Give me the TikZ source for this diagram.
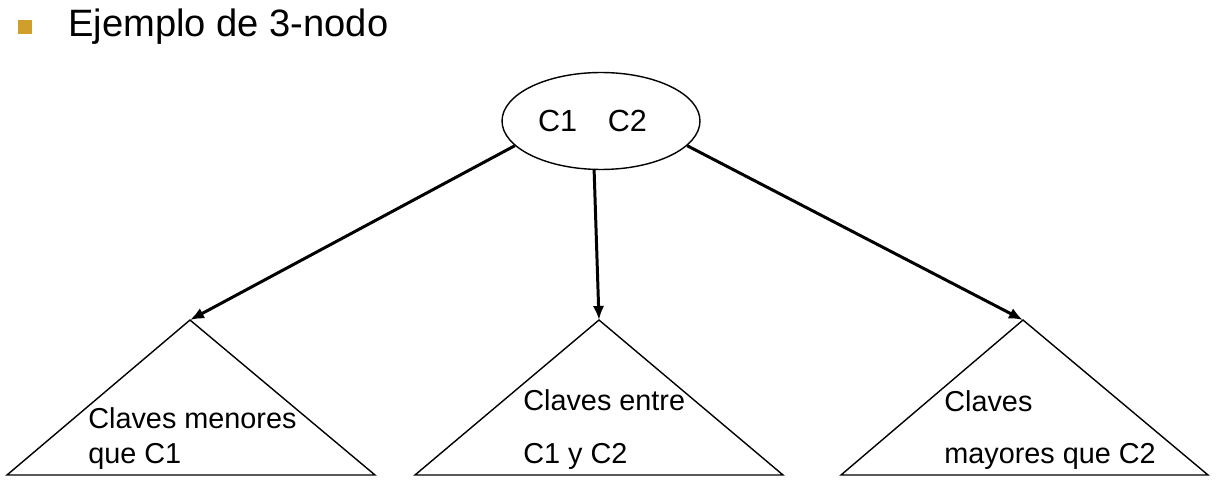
\documentclass[tikz,border=0pt]{standalone}
\usepackage{fontspec}
\setmainfont{Liberation Sans}
\usetikzlibrary{positioning,shapes.geometric,arrows.meta}
\definecolor{vineta}{RGB}{208,158,42}

\begin{document}
\begin{tikzpicture}[x=0.02cm,y=-0.02cm]
  % pixel grid: x 0--1220, y 0--486 (downwards)
  \useasboundingbox (0,0) rectangle (1220,486);
  \tikzset{arista/.style={line width=1.7pt,-{Latex[length=8pt,width=6.5pt]}},
           arbol/.style={draw,line width=0.8pt,line join=miter},
           clave/.style={font=\fontsize{16.4}{19}\selectfont,anchor=base west,inner sep=0pt}}
  % heading
  \fill[vineta] (18,20) rectangle (32,34);
  \node[anchor=base west,inner sep=0pt,font=\fontsize{21.7}{26}\selectfont] (titulo) at (68,37) {Ejemplo de 3-nodo};
  % the 3-node
  \node[draw,ellipse,line width=0.8pt,minimum width=3.96cm,minimum height=1.94cm,inner sep=0pt,
        font=\fontsize{17.4}{20}\selectfont] (raiz) at (601,121) {C1\quad C2\kern0.34cm};
  % subtrees
  \coordinate (apiceA) at (190,320);
  \coordinate (apiceB) at (599,320);
  \coordinate (apiceC) at (1023,320);
  \draw[arbol] (apiceA) -- (375,475) -- (7,475) -- cycle;
  \draw[arbol] (apiceB) -- (783,475) -- (415,475) -- cycle;
  \draw[arbol] (apiceC) -- (1208,475) -- (841,475) -- cycle;
  \draw[arista] (raiz.196) -- (apiceA);
  \draw[arista] (raiz.262) -- (apiceB);
  \draw[arista] (raiz.344) -- (apiceC);
  % labels
  \node[clave] (menA) at (88,428) {Claves menores};
  \node[clave] (menB) at (88,463) {que C1};
  \node[clave] (entA) at (523,410) {Claves entre};
  \node[clave] (entB) at (523,463) {C1 y C2};
  \node[clave] (mayA) at (944,411) {Claves};
  \node[clave] (mayB) at (944,463) {mayores que C2};
\end{tikzpicture}
\end{document}
